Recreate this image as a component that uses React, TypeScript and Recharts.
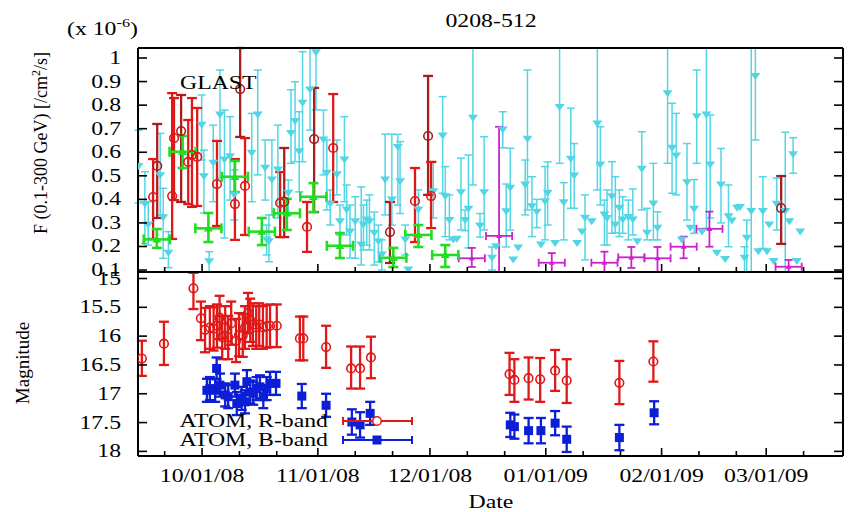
import React from 'react';
import { ScatterChart, Scatter, XAxis, YAxis, ErrorBar } from 'recharts';

// ---------- axes (x = days since 2008-10-01) ----------
const X_DOMAIN: [number, number] = [-17.14, 171.55];
const FLUX_DOMAIN: [number, number] = [0.0917, 1.0425];
const MAG_DOMAIN: [number, number] = [14.887, 18.08];
const MAJOR_DAYS = [0, 31, 61, 92, 123, 151];
const MAJOR_LABELS = ['10/01/08', '11/01/08', '12/01/08', '01/01/09', '02/01/09', '03/01/09'];
const MINOR_DAYS = [-10, 10, 20, 41, 51, 71, 81, 102, 112, 133, 143, 161];
const FLUX_TICKS = [0.1, 0.2, 0.3, 0.4, 0.5, 0.6, 0.7, 0.8, 0.9, 1];
const MAG_TICKS = [15, 15.5, 16, 16.5, 17, 17.5, 18];

// ---------- GLAST daily (cyan) with error bars ----------
const cyanDays = [-17.0, -15.3, -14.4, -11.2, -10.4, -9.0, -0.1, 0.5, 1.9, 3.0, 4.8, 6.0, 7.5, 8.6, 13.3, 14.9, 16.9, 17.3, 17.9, 18.7, 20.3,
  23.1, 23.8, 24.9, 26.0, 26.9, 28.9, 30.5, 32.5, 33.4, 34.3, 36.1, 36.9, 38.1, 38.7, 39.6, 41.0, 42.6, 43.2, 44.1, 44.8, 46.1, 47.2, 48.1, 49.0, 50.8, 52.4, 53.0, 54.4, 57.9,
  61.9, 64.4, 65.1, 66.2, 69.3, 70.4, 71.3, 72.5, 74.4, 75.5, 77.6, 80.5, 81.4, 82.5, 86.5, 87.1, 88.3, 89.6, 91.8, 92.5, 95.7, 96.8, 98.7, 99.6,
  102.5, 105.8, 106.6, 107.7, 108.4, 109.7, 110.6, 111.7, 112.6, 114.1, 115.3, 117.7, 119.1, 120.8, 121.9, 124.6, 125.8, 126.9, 129.8,
  131.7, 132.4, 135.0, 136.0, 138.9, 140.9, 145.2, 145.8, 147.0, 148.1, 150.1, 153.8, 156.1, 158.2];
const cyanFlux = [0.539, 0.379, 0.291, 0.500, 0.322, 0.171, 0.715, 0.496, 0.135, 0.553, 0.758, 0.567, 0.581, 0.419, 0.596, 0.758, 0.532, 0.228, 0.220, 0.482, 0.525,
  0.426, 0.680, 0.730, 0.602, 0.808, 0.864, 1.022, 0.652, 0.511, 0.379, 0.504, 0.305, 0.567, 0.355, 0.262, 0.305, 0.206, 0.291, 0.312, 0.305, 0.256, 0.220, 0.164, 0.482, 0.397, 0.620, 0.475, 0.228, 0.355,
  0.432, 0.669, 0.411, 0.310, 0.428, 0.310, 0.358, 0.744, 0.287, 0.428, 0.150, 0.694, 0.347, 0.447, 0.461, 0.655, 0.369, 0.345, 0.390, 0.426, 0.790, 0.386, 0.570, 0.499,
  0.320, 0.720, 0.546, 0.334, 0.319, 0.411, 0.291, 0.362, 0.312, 0.323, 0.312, 0.528, 0.256, 0.380, 0.277, 0.848, 0.617, 0.584, 0.471,
  0.358, 0.751, 0.758, 0.546, 0.461, 0.326, 0.150, 0.235, 0.348, 0.921, 0.348, 0.379, 0.348, 0.589];
const cyanHigh = [0.694, 0.517, 0.389, 0.680, 0.447, 0.263, 0.843, 0.609, 0.178, 0.715, 0.949, 0.779, 0.751, 0.525, 0.765, 0.949, 0.652, 0.291, 0.334, 0.652, 0.715,
  0.482, 0.865, 0.899, 0.772, 1.027, 1.100, 1.250, 0.779, 0.652, 0.440, 0.652, 0.376, 0.751, 0.461, 0.376, 0.411, 0.453, 0.376, 0.397, 0.419, 0.346, 0.291, 0.228, 0.677, 0.677, 0.676, 0.645, 0.291, 0.440,
  0.560, 0.836, 0.539, 0.419, 0.575, 0.355, 0.588, 1.100, 0.340, 0.666, 0.198, 0.772, 0.465, 0.617, 0.567, 0.949, 0.496, 0.400, 0.539, 0.559, 1.100, 0.471, 0.787, 0.637,
  0.419, 1.100, 0.708, 0.397, 0.440, 0.560, 0.496, 0.440, 0.411, 0.397, 0.444, 0.687, 0.362, 0.553, 0.347, 1.100, 0.808, 0.765, 0.637,
  0.484, 0.949, 1.100, 0.758, 0.616, 0.461, 0.199, 0.312, 1.100, 1.100, 0.496, 0.490, 0.685, 0.662];
const cyanLow = [0.385, 0.213, 0.206, 0.334, 0.150, 0.110, 0.567, 0.342, 0.050, 0.390, 0.491, 0.236, 0.397, 0.312, 0.390, 0.504, 0.397, 0.164, 0.135, 0.334, 0.321,
  0.334, 0.553, 0.560, 0.432, 0.560, 0.694, 0.780, 0.504, 0.355, 0.291, 0.419, 0.249, 0.390, 0.249, 0.151, 0.150, 0.121, 0.185, 0.206, 0.185, 0.121, 0.134, 0.100, 0.334, 0.291, 0.376, 0.340, 0.164, 0.249,
  0.321, 0.426, 0.242, 0.228, 0.270, 0.267, 0.194, 0.461, 0.240, 0.270, 0.100, 0.619, 0.198, 0.270, 0.334, 0.355, 0.242, 0.280, 0.228, 0.291, 0.553, 0.228, 0.362, 0.362,
  0.143, 0.440, 0.376, 0.206, 0.206, 0.256, 0.258, 0.242, 0.256, 0.228, 0.249, 0.355, 0.228, 0.228, 0.228, 0.553, 0.426, 0.419, 0.312,
  0.256, 0.553, 0.277, 0.321, 0.300, 0.199, 0.080, 0.080, 0.080, 0.652, 0.192, 0.270, 0.080, 0.511];

// ---------- GLAST daily (cyan) without visible error bars ----------
const cyanBareDays = [55.2, 67.3, 68.2, 78.7, 83.3, 84.6, 90.7, 94.5, 100.4, 101.7, 104.3, 116.5, 128.4, 130.7, 133.8, 137.8, 140.0,
  141.8, 143.2, 144.0, 148.9, 151.2, 151.8, 153.0, 157.2, 159.2, 160.1];
const cyanBareFlux = [0.100, 0.228, 0.231, 0.199, 0.143, 0.194, 0.206, 0.213, 0.213, 0.262, 0.305, 0.220, 0.228, 0.277, 0.262, 0.171, 0.145,
  0.308, 0.362, 0.365, 0.178, 0.178, 0.291, 0.136, 0.305, 0.136, 0.262];

// ---------- GLAST (red, bright) ----------
const redDays = [-13.1, -8.0, -7.5, -3.7, -2.7, -1.3, 4.0, 8.8, 11.5, 20.9, 28.1, 35.1, 57.0, 61.3];
const redFlux = [0.410, 0.414, 0.660, 0.559, 0.588, 0.580, 0.465, 0.380, 0.457, 0.385, 0.283, 0.618, 0.393, 0.414];
const redHigh = [0.571, 0.851, 0.830, 0.737, 0.830, 0.788, 0.648, 0.571, 0.660, 0.516, 0.389, 0.847, 0.533, 0.559];
const redLow = [0.232, 0.232, 0.397, 0.380, 0.368, 0.372, 0.287, 0.228, 0.249, 0.240, 0.177, 0.389, 0.219, 0.278];

// ---------- GLAST (red, dark) ----------
const darkDays = [-12.0, -5.6, 10.2, 22.0, 30.0, 50.3, 60.5, 155.0];
const darkFlux = [0.542, 0.690, 0.868, 0.390, 0.656, 0.261, 0.669, 0.363];
const darkHigh = [0.720, 0.843, 1.200, 0.618, 0.873, 0.389, 0.924, 0.499];
const darkLow = [0.321, 0.389, 0.665, 0.240, 0.346, 0.130, 0.419, 0.211];

// ---------- GLAST weekly (green) ----------
const greenDays = [-12.1, -5.2, 1.7, 8.8, 16.0, 22.7, 29.8, 36.9, 51.2, 57.9, 65.1];
const greenFlux = [0.230, 0.602, 0.277, 0.496, 0.263, 0.341, 0.411, 0.203, 0.152, 0.249, 0.164];
const greenHigh = [0.274, 0.669, 0.342, 0.563, 0.321, 0.402, 0.469, 0.257, 0.194, 0.291, 0.206];
const greenLow = [0.194, 0.533, 0.219, 0.431, 0.206, 0.270, 0.346, 0.151, 0.113, 0.198, 0.113];

// ---------- GLAST weekly (magenta) ----------
const magDays = [72.2, 79.5, 93.6, 107.7, 114.9, 121.9, 128.9, 135.8, 157.0];
const magFlux = [0.150, 0.245, 0.131, 0.131, 0.154, 0.150, 0.199, 0.275, 0.114];
const magHigh = [0.194, 0.708, 0.172, 0.178, 0.198, 0.198, 0.242, 0.348, 0.143];
const magLow = [0.113, 0.050, 0.090, 0.090, 0.109, 0.090, 0.150, 0.199, 0.090];
const WEEK_HALF = 3.5;

// ---------- ATOM R-band ----------
const rDays = [-16.1, -10.2, -2.3, -0.3, 0.8, 2.1, 3.1, 4.0, 4.7, 5.4, 6.2, 7.0, 7.8, 9.1, 9.9, 10.9, 11.5, 12.3, 12.9, 13.6, 14.5, 15.3, 16.3, 17.3, 18.2, 20.0,
  26.2, 27.1, 33.2, 39.9, 42.3, 45.2, 82.3, 83.6, 87.4, 90.5, 94.5, 97.6, 111.7, 120.8];
const rMag = [16.39, 16.13, 15.17, 15.69, 15.89, 15.85, 15.87, 15.82, 15.68, 16.02, 15.85, 16.02, 15.78, 16.08, 15.98, 15.99, 15.85, 15.60, 15.72, 15.80, 15.85, 15.80, 15.85, 15.83, 15.82, 15.82,
  16.04, 16.04, 16.19, 16.56, 16.56, 16.37, 16.66, 16.76, 16.73, 16.75, 16.60, 16.77, 16.81, 16.44];
const rBright = [16.08, 15.75, 14.90, 15.40, 15.51, 15.48, 15.50, 15.45, 15.30, 15.65, 15.48, 15.65, 15.40, 15.70, 15.60, 15.62, 15.48, 15.25, 15.35, 15.43, 15.48, 15.43, 15.48, 15.46, 15.45, 15.45,
  15.66, 15.66, 15.82, 16.18, 16.18, 16.01, 16.29, 16.40, 16.37, 16.38, 16.24, 16.40, 16.43, 16.09];
const rFaint = [16.69, 16.50, 15.53, 16.07, 16.28, 16.22, 16.25, 16.20, 16.05, 16.40, 16.22, 16.40, 16.15, 16.45, 16.35, 16.36, 16.22, 15.95, 16.10, 16.17, 16.22, 16.17, 16.22, 16.20, 16.19, 16.19,
  16.42, 16.42, 16.55, 16.91, 16.91, 16.73, 17.02, 17.14, 17.10, 17.14, 16.95, 17.16, 17.18, 16.79];

// ---------- ATOM B-band ----------
const bDays = [1.3, 2.1, 3.5, 3.9, 4.8, 6.2, 7.0, 8.8, 9.3, 10.6, 11.5, 12.0, 12.9, 13.7, 14.6, 15.5, 16.4, 17.3, 18.2, 19.8,
  26.7, 33.2, 40.1, 42.3, 45.0, 82.5, 83.6, 87.4, 90.7, 94.5, 97.6, 111.7, 121.0];
const bMag = [16.94, 16.91, 16.94, 16.56, 16.85, 17.02, 17.05, 16.85, 17.17, 17.08, 17.14, 16.79, 16.97, 16.99, 16.91, 16.88, 17.05, 16.91, 16.82, 16.82,
  17.04, 17.20, 17.49, 17.54, 17.34, 17.54, 17.57, 17.64, 17.64, 17.51, 17.79, 17.76, 17.33];
const bErr = [0.20, 0.20, 0.20, 0.19, 0.20, 0.20, 0.20, 0.20, 0.20, 0.20, 0.20, 0.20, 0.20, 0.20, 0.20, 0.20, 0.20, 0.20, 0.20, 0.20,
  0.21, 0.20, 0.22, 0.22, 0.20, 0.21, 0.21, 0.22, 0.22, 0.21, 0.22, 0.22, 0.20];

// ---------- styling ----------
const FONT = '"Liberation Serif","Times New Roman",Times,serif';
const FS = 19;
const SX = 1.25;
const CYAN = '#52d6e4';
const RED = '#e01818';
const DARK = '#a81e1e';
const GREEN = '#22dd22';
const MAGENTA = '#cc22cc';
const BLUE = '#0c1ed6';
const AXIS_LINE = { stroke: '#000', strokeWidth: 2 };
const X_TICKS = [...MINOR_DAYS, ...MAJOR_DAYS].sort((a, b) => a - b);

type Row = { x: number; y: number; ey: number[] | null; ex?: number };

function buildRows(xs: number[], ys: number[], hi: number[] | null, lo: number[] | null, dom: [number, number], ex?: number): Row[] {
  return xs.map((x, i) => {
    const y = ys[i];
    let ey: number[] | null = null;
    if (hi && lo) {
      const h = Math.min(hi[i], dom[1]);
      const l = Math.max(lo[i], dom[0]);
      ey = [Math.max(0, y - l), Math.max(0, h - y)];
    }
    return ex != null ? { x, y, ey, ex } : { x, y, ey };
  });
}

const cyanRows = buildRows(cyanDays, cyanFlux, cyanHigh, cyanLow, FLUX_DOMAIN);
const cyanBareRows = buildRows(cyanBareDays, cyanBareFlux, null, null, FLUX_DOMAIN);
const redRows = buildRows(redDays, redFlux, redHigh, redLow, FLUX_DOMAIN);
const darkRows = buildRows(darkDays, darkFlux, darkHigh, darkLow, FLUX_DOMAIN);
const greenRows = buildRows(greenDays, greenFlux, greenHigh, greenLow, FLUX_DOMAIN, WEEK_HALF);
const magRows = buildRows(magDays, magFlux, magHigh, magLow, FLUX_DOMAIN, WEEK_HALF);
const rRows = buildRows(rDays, rMag, rFaint, rBright, MAG_DOMAIN);
const bRows = buildRows(bDays, bMag, bMag.map((m, i) => m + bErr[i]), bMag.map((m, i) => m - bErr[i]), MAG_DOMAIN);

// ---------- shapes ----------
const triDown = (color: string) => (p: any) =>
  p.cx == null ? <g /> : <path d={`M${p.cx - 5},${p.cy - 3.5}L${p.cx + 5},${p.cy - 3.5}L${p.cx},${p.cy + 3.5}Z`} fill={color} />;
const triUp = (color: string, s: number) => (p: any) =>
  p.cx == null ? <g /> : <path d={`M${p.cx - s},${p.cy + s * 0.7}L${p.cx + s},${p.cy + s * 0.7}L${p.cx},${p.cy - s * 0.8}Z`} fill={color} />;
const ring = (color: string) => (p: any) =>
  p.cx == null ? <g /> : <circle cx={p.cx} cy={p.cy} r={4.3} fill="none" stroke={color} strokeWidth={1.6} />;
const square = (color: string) => (p: any) =>
  p.cx == null ? <g /> : <rect x={p.cx - 4.5} y={p.cy - 4.5} width={9} height={9} fill={color} />;

// ---------- ticks ----------
const xTick = (dir: number, labels: boolean) => (p: any) => {
  const v = p.payload.value;
  const idx = MAJOR_DAYS.indexOf(v);
  const len = idx >= 0 ? 8 : 5;
  return (
    <g>
      <line x1={p.x} y1={p.y} x2={p.x} y2={p.y + dir * len} stroke="#000" strokeWidth={1.6} />
      {labels && idx >= 0 ? (
        <text transform={`translate(${p.x},${p.y + 26}) scale(${SX},1)`} textAnchor="middle" fontFamily={FONT} fontSize={FS} fill="#000">
          {MAJOR_LABELS[idx]}
        </text>
      ) : null}
    </g>
  );
};
const yTick = (dir: number, labels: boolean) => (p: any) => (
  <g>
    <line x1={p.x} y1={p.y} x2={p.x + dir * 9} y2={p.y} stroke="#000" strokeWidth={1.6} />
    {labels ? (
      <text transform={`translate(${p.x - 17},${p.y + 6}) scale(${SX},1)`} textAnchor="end" fontFamily={FONT} fontSize={FS} fill="#000">
        {String(p.payload.value)}
      </text>
    ) : null}
  </g>
);

function axes(yDomain: [number, number], yTicks: number[], reversed: boolean, xLabels: boolean) {
  return [
    <XAxis key="xb" xAxisId="b" type="number" dataKey="x" orientation="bottom" domain={X_DOMAIN} allowDataOverflow ticks={X_TICKS} interval={0}
      tickSize={0} tickMargin={0} height={1} tickLine={false} axisLine={AXIS_LINE} tick={xTick(-1, xLabels)} />,
    <XAxis key="xt" xAxisId="t" type="number" orientation="top" domain={X_DOMAIN} allowDataOverflow ticks={X_TICKS} interval={0}
      tickSize={0} tickMargin={0} height={1} tickLine={false} axisLine={AXIS_LINE} tick={xTick(1, false)} />,
    <YAxis key="yl" yAxisId="l" type="number" dataKey="y" orientation="left" domain={yDomain} reversed={reversed} allowDataOverflow ticks={yTicks} interval={0}
      tickSize={0} tickMargin={0} width={1} tickLine={false} axisLine={AXIS_LINE} tick={yTick(1, true)} />,
    <YAxis key="yr" yAxisId="r" type="number" orientation="right" domain={yDomain} reversed={reversed} allowDataOverflow ticks={yTicks} interval={0}
      tickSize={0} tickMargin={0} width={1} tickLine={false} axisLine={AXIS_LINE} tick={yTick(-1, false)} />,
  ];
}

const st = (x: number, y: number, anchor: string, content: React.ReactNode, size = FS) => (
  <text transform={`translate(${x},${y}) scale(${SX},1)`} textAnchor={anchor as any} fontFamily={FONT} fontSize={size} fill="#000">
    {content}
  </text>
);

export default function App() {
  return (
    <div style={{ position: 'absolute', left: 0, top: 0, width: 848, height: 512, background: '#fff', overflow: 'hidden' }}>
      <div style={{ position: 'absolute', left: 0, top: 0 }}>
        <ScatterChart width={848} height={512} margin={{ top: 47, right: 4, bottom: 239, left: 137 }}>
          {axes(FLUX_DOMAIN, FLUX_TICKS, false, false)}
          <Scatter xAxisId="b" yAxisId="l" data={cyanRows} shape={triDown(CYAN)} isAnimationActive={false}>
            <ErrorBar dataKey="ey" direction="y" width={4} stroke={CYAN} strokeWidth={1.5} isAnimationActive={false} />
          </Scatter>
          <Scatter xAxisId="b" yAxisId="l" data={cyanBareRows} shape={triDown(CYAN)} isAnimationActive={false} />
          <Scatter xAxisId="b" yAxisId="l" data={magRows} shape={triUp(MAGENTA, 3)} isAnimationActive={false}>
            <ErrorBar dataKey="ey" direction="y" width={4} stroke={MAGENTA} strokeWidth={1.8} isAnimationActive={false} />
            <ErrorBar dataKey="ex" direction="x" width={4} stroke={MAGENTA} strokeWidth={1.8} isAnimationActive={false} />
          </Scatter>
          <Scatter xAxisId="b" yAxisId="l" data={darkRows} shape={ring(DARK)} isAnimationActive={false}>
            <ErrorBar dataKey="ey" direction="y" width={5} stroke={DARK} strokeWidth={2.3} isAnimationActive={false} />
          </Scatter>
          <Scatter xAxisId="b" yAxisId="l" data={redRows} shape={ring(RED)} isAnimationActive={false}>
            <ErrorBar dataKey="ey" direction="y" width={5} stroke={RED} strokeWidth={2.3} isAnimationActive={false} />
          </Scatter>
          <Scatter xAxisId="b" yAxisId="l" data={greenRows} shape={triUp(GREEN, 4.5)} isAnimationActive={false}>
            <ErrorBar dataKey="ey" direction="y" width={5} stroke={GREEN} strokeWidth={2.6} isAnimationActive={false} />
            <ErrorBar dataKey="ex" direction="x" width={5} stroke={GREEN} strokeWidth={2.6} isAnimationActive={false} />
          </Scatter>
        </ScatterChart>
      </div>
      <div style={{ position: 'absolute', left: 0, top: 0 }}>
        <ScatterChart width={848} height={512} margin={{ top: 271, right: 4, bottom: 55, left: 137 }}>
          {axes(MAG_DOMAIN, MAG_TICKS, true, true)}
          <Scatter xAxisId="b" yAxisId="l" data={rRows} shape={ring(RED)} isAnimationActive={false}>
            <ErrorBar dataKey="ey" direction="y" width={5} stroke={RED} strokeWidth={2.3} isAnimationActive={false} />
          </Scatter>
          <Scatter xAxisId="b" yAxisId="l" data={bRows} shape={square(BLUE)} isAnimationActive={false}>
            <ErrorBar dataKey="ey" direction="y" width={5} stroke={BLUE} strokeWidth={2.3} isAnimationActive={false} />
          </Scatter>
        </ScatterChart>
      </div>
      <svg width={848} height={512} style={{ position: 'absolute', left: 0, top: 0, pointerEvents: 'none' }}>
        {st(491, 27, 'middle', '0208-512')}
        {st(67, 35, 'start', (
          <>
            (x 10<tspan dy={-8} fontSize={13}>-6</tspan><tspan dy={8}>)</tspan>
          </>
        ))}
        {st(180, 89, 'start', 'GLAST')}
        {st(491, 508, 'middle', 'Date')}
        <text transform="translate(47,143) rotate(-90)" textAnchor="middle" fontFamily={FONT} fontSize={18} fill="#000">
          F (0.1-300 GeV) [/cm<tspan dy={-7} fontSize={12}>2</tspan><tspan dy={7}>/s]</tspan>
        </text>
        <text transform="translate(29,363) rotate(-90)" textAnchor="middle" fontFamily={FONT} fontSize={19} fill="#000">
          Magnitude
        </text>
        {st(328, 427, 'end', 'ATOM, R-band')}
        {st(328, 446, 'end', 'ATOM, B-band')}
        <g stroke={RED} strokeWidth={2}>
          <line x1={343} y1={421} x2={412} y2={421} />
          <line x1={343} y1={417} x2={343} y2={425} />
          <line x1={412} y1={417} x2={412} y2={425} />
        </g>
        <circle cx={377} cy={421} r={4.3} fill="#fff" stroke={RED} strokeWidth={1.6} />
        <g stroke={BLUE} strokeWidth={2}>
          <line x1={343} y1={440} x2={412} y2={440} />
          <line x1={343} y1={436} x2={343} y2={444} />
          <line x1={412} y1={436} x2={412} y2={444} />
        </g>
        <rect x={372.5} y={435.5} width={9} height={9} fill={BLUE} />
      </svg>
    </div>
  );
}
